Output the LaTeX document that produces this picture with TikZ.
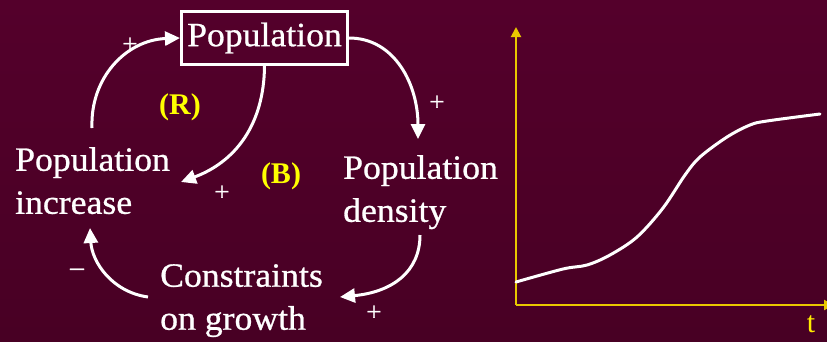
\documentclass[tikz,border=0pt]{standalone}
\usepackage{fontspec}
\setmainfont{Liberation Serif}
\newfontfamily\diagfont[FakeStretch=1.05,FakeBold=0.8]{Liberation Serif}
\usetikzlibrary{arrows.meta}
\definecolor{bgtop}{RGB}{84,0,43}
\definecolor{bgmid}{RGB}{102,0,51}
\definecolor{bgbot}{RGB}{72,0,36}
\definecolor{axisyellow}{RGB}{232,200,0}
\definecolor{labelyellow}{RGB}{255,236,0}
\definecolor{loopyellow}{RGB}{255,255,0}
\begin{document}
\begin{tikzpicture}[x=1pt,y=-1pt,
  lbl/.style={text=white, font=\diagfont\fontsize{34}{43}\selectfont, align=left, inner sep=0pt},
  sign/.style={text=white, font=\diagfont\fontsize{26}{26}\selectfont, inner sep=0pt},
  loopname/.style={text=loopyellow, font=\bfseries\fontsize{30}{30}\selectfont, inner sep=0pt},
  conn/.style={white, line width=3pt, -{Triangle[length=15pt,width=14pt]}},
  axisline/.style={axisyellow, line width=2pt, -{Triangle[length=10pt,width=10pt]}}]
\useasboundingbox (0,0) rectangle (827,341);
\shade[top color=bgtop, middle color=bgmid, bottom color=bgbot] (0,0) rectangle (827,341);

% nodes
\node[draw=white, line width=3pt, minimum width=166pt, minimum height=53pt, inner sep=0pt,
      text=white, font=\diagfont\fontsize{34}{43}\selectfont] (pop) at (264.5,38) {Population};
\node[lbl, anchor=north west] (inc) at (15,147) {Population\\increase};
\node[lbl, anchor=north west] (den) at (343,155) {Population\\density};
\node[lbl, anchor=north west] (con) at (160,264) {Constraints\\on growth};

\node[loopname] (R) at (180,107) {(R)};
\node[loopname] (B) at (281,176) {(B)};

% connectors
\coordinate (a1s) at (92,128);
\coordinate (a2e) at (418,139);
\coordinate (a3e) at (181,182);
\coordinate (a4s) at (420,235);
\coordinate (a4e) at (340,297);
\coordinate (a5s) at (148,297);
\coordinate (a5e) at (90,228);
\draw[conn] (a1s) .. controls (90,78) and (126,40) .. (pop.west);
\draw[conn] (pop.east) .. controls (395,38) and (418,85) .. (a2e);
\draw[conn] (pop.south) .. controls (264,125) and (235,162) .. (a3e);
\draw[conn] (a4s) .. controls (420,272) and (392,292) .. (a4e);
\draw[conn] (a5s) .. controls (112,292) and (92,262) .. (a5e);

% signs
\node[sign] (s1) at (130,45) {+};
\node[sign] (s2) at (437,103) {+};
\node[sign] (s3) at (222,193) {+};
\node[sign] (s4) at (77,272) {–};
\node[sign] (s5) at (374,313) {+};

% graph
\coordinate (O) at (516,305);
\coordinate (ytop) at (516,27);
\coordinate (xend) at (834,305);
\draw[axisline] (O) -- (ytop);
\draw[axisline] (O) -- (xend);
\node[text=labelyellow, font=\fontsize{30}{30}\selectfont, anchor=base, inner sep=0pt] (t) at (811,332) {t};
\draw[white, line width=3pt, line cap=round] plot[smooth, tension=0.55] coordinates
  {(516,282) (563,269) (587,265) (610,255) (637,237) (663,208) (685,175) (700,157) (727,137) (750,125) (767,121) (820,114)};
\end{tikzpicture}
\end{document}
